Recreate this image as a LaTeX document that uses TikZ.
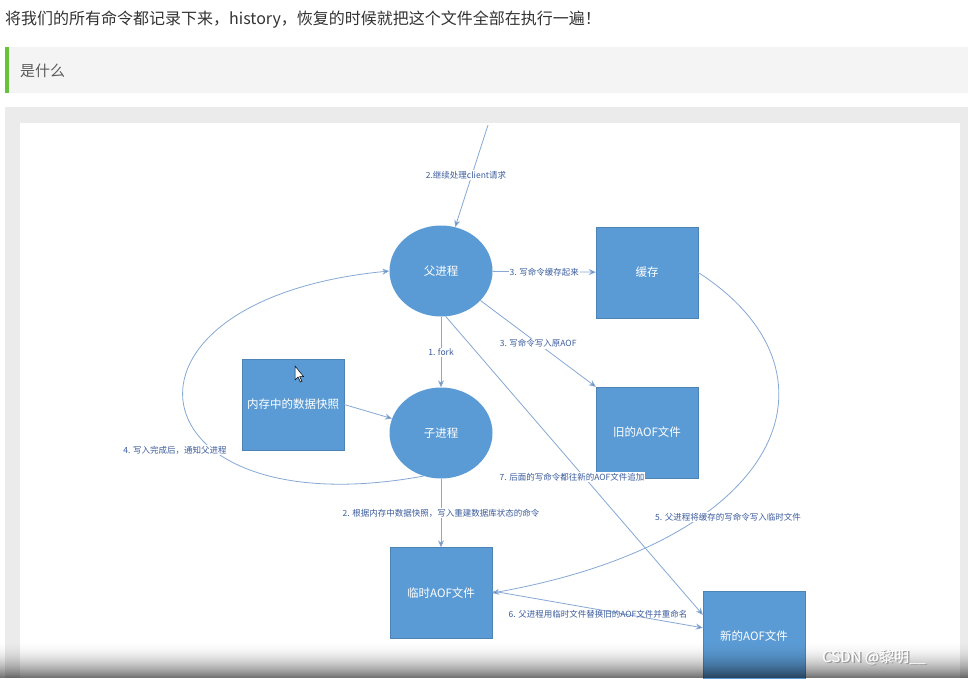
\documentclass[tikz,border=0pt]{standalone}
\usepackage{fontspec}
\setmainfont{Noto Sans CJK SC}
\usetikzlibrary{arrows.meta,shapes.geometric}
\definecolor{nodeblue}{HTML}{5B9BD5}
\definecolor{linecol}{HTML}{86A8D4}
\definecolor{labcol}{HTML}{3B5C9C}
\definecolor{titlecol}{HTML}{333333}
\definecolor{bargray}{HTML}{F4F4F4}
\definecolor{bargreen}{HTML}{67C23A}
\definecolor{panelgray}{HTML}{EBEBEB}
\begin{document}
\begin{tikzpicture}[x=1pt,y=-1pt,
  boxnode/.style={draw=nodeblue!85!black, line width=0.4pt, fill=nodeblue, text=white, minimum width=102pt, minimum height=91pt, inner sep=0pt, font=\fontsize{11.5}{13}\selectfont},
  ellnode/.style={ellipse, fill=nodeblue, text=white, minimum width=103pt, minimum height=91pt, inner sep=0pt, font=\fontsize{11.5}{13}\selectfont},
  conn/.style={draw=linecol, line width=0.8pt, -{Stealth[length=7pt,width=6pt,fill=nodeblue!80!black]}},
  lab/.style={text=labcol, font=\fontsize{8.5}{10}\selectfont, fill=white, inner sep=1pt}
]
\useasboundingbox (0,0) rectangle (968,678);
\fill[white] (0,0) rectangle (968,678);
% header
\node[anchor=west, inner sep=0pt, text=titlecol, font=\fontsize{16}{18}\selectfont] (title) at (5,20) {将我们的所有命令都记录下来，history，恢复的时候就把这个文件全部在执行一遍！};
\fill[bargray] (5,47) rectangle (968,93);
\fill[bargreen] (5,47) rectangle (9,93);
\node[anchor=west, inner sep=0pt, text=titlecol!80, font=\fontsize{15}{18}\selectfont] (what) at (20,71) {是什么};
% panel
\fill[panelgray] (5,107) rectangle (968,678);
\fill[white] (20,123) rectangle (960,678);
% nodes
\node[ellnode] (fu) at (441,271) {父进程};
\node[ellnode] (zi) at (441,433) {子进程};
\node[boxnode] (cache) at (647,272.5) {缓存};
\node[boxnode] (old) at (647,432.5) {旧的AOF文件};
\node[boxnode] (snap) at (293,404.5) {内存中的数据快照};
\node[boxnode] (tmp) at (441,593) {临时AOF文件};
\node[boxnode] (new) at (754,636.5) {新的AOF文件};
\coordinate (client) at (488,125);
% edges
\draw[conn] (client) -- (fu);
\node[lab] at (466,175) {2.继续处理client请求};
\draw[conn] (fu) -- (cache) node[lab, midway] {3. 写命令缓存起来};
\draw[conn] (fu) -- (old.north west) node[lab, pos=0.5] {3. 写命令写入原AOF};
\draw[conn] (fu) -- (zi) node[lab, midway] {1. fork};
\draw[conn] (fu.-84) -- ([yshift=-24pt]new.north west);
\node[lab] at (572,477) {7. 后面的写命令都往新的AOF文件追加};
\draw[conn] (snap.east) -- (zi);
\draw[conn] (zi.-112) .. controls (130,530) and (90,300) .. (fu.west);
\node[lab] at (175,450) {4. 写入完成后，通知父进程};
\draw[conn] (zi) -- (tmp) node[lab, midway] {2. 根据内存中数据快照，写入重建数据库状态的命令};
\draw[conn] (cache.east) .. controls (850,370) and (790,540) .. (tmp.east);
\node[lab] at (728,517) {5. 父进程将缓存的写命令写入临时文件};
\draw[conn] ([yshift=2pt]tmp.east) -- ([yshift=-37pt]new.north west);
\node[lab, fill=none] at (598,614) {6. 父进程用临时文件替换旧的AOF文件并重命名};
% cursor
\filldraw[fill=white, draw=black, line width=0.5pt] (295,366) -- (295,380) -- (298,377) -- (300.5,382) -- (302,381.3) -- (299.6,376.5) -- (303.5,376.5) -- cycle;
% bottom overlay (smooth gradient)
\foreach \i in {0,...,37}{
  \pgfmathsetmacro{\op}{0.55*(\i/37)^2}
  \fill[black, opacity=\op] (0,640+\i) rectangle (968,641.05+\i);
}
\node[anchor=west, inner sep=0pt, text=black!40, font=\fontsize{15}{17}\selectfont] at (823.6,658.6) {CSDN @黎明\_\_};
\node[anchor=west, inner sep=0pt, text=white, font=\fontsize{15}{17}\selectfont] (wm) at (822,657) {CSDN @黎明\_\_};
\end{tikzpicture}
\end{document}
